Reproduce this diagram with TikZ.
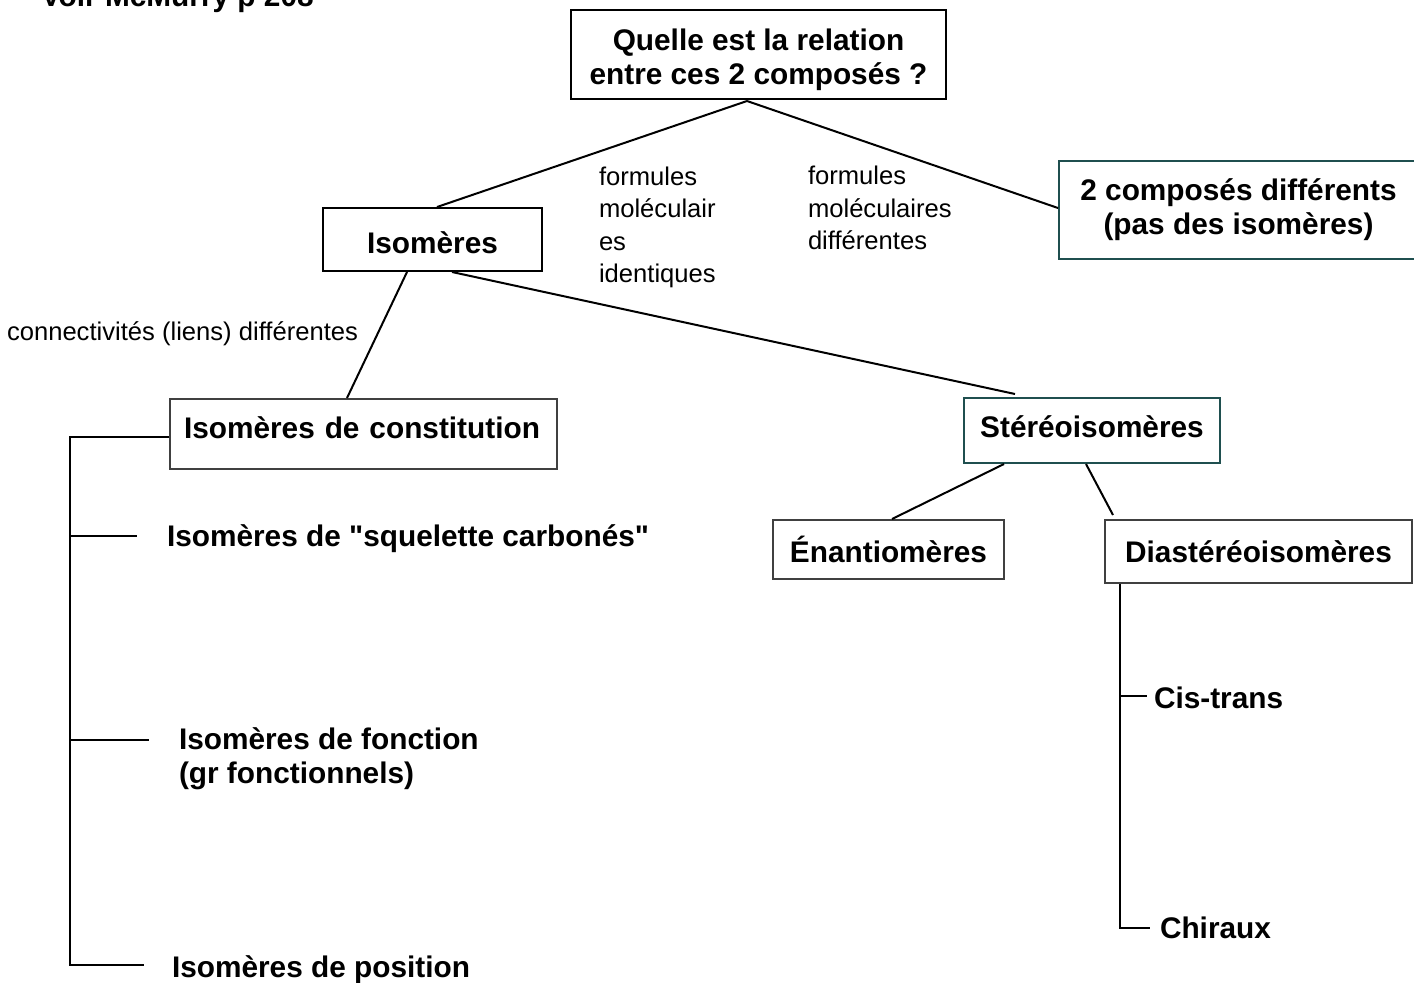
\documentclass[tikz,border=0pt]{standalone}
\usepackage{fontspec}
\setmainfont{Liberation Sans}[Ligatures=TeXOff]
\usetikzlibrary{calc}
\definecolor{darkteal}{HTML}{1F4F4F}
\definecolor{boxgrey}{HTML}{404040}
\tikzset{
  box/.style={draw,line width=1pt,inner sep=0pt,align=center,
    font=\fontsize{14.9}{17}\selectfont\bfseries},
  item/.style={inner sep=0pt,align=left,font=\fontsize{14.9}{17}\selectfont\bfseries},
  note/.style={inner sep=0pt,align=left,font=\fontsize{12.8}{16.2}\selectfont}
}

\begin{document}
\begin{tikzpicture}[x=0.5pt,y=-0.5pt,line width=1pt]
  \clip (0,0) rectangle (1414,982);
  \node[item,anchor=base west] (voir) at (40,6) {Voir McMurry p 208};

  \node[box,minimum width=187.5pt,minimum height=44.5pt] (Q) at (758.5,54.5) {\rule{0pt}{16pt}Quelle est la relation\\entre ces 2 composés ?};
  \node[box,minimum width=109.5pt,minimum height=31.5pt] (iso) at (432.5,239.5) {\rule{0pt}{14pt}Isomères};
  \node[box,draw=darkteal,minimum width=179.5pt,minimum height=49pt] (diff) at (1238.5,210) {2 composés différents\\(pas des isomères)};
  \node[box,draw=boxgrey,minimum width=193.5pt,minimum height=35pt,text width=179.5pt,align=left,text depth=6pt] (constit) at (363.5,434) {Isomères de constitution};
  \node[box,draw=darkteal,minimum width=128pt,minimum height=32.5pt,text depth=4pt] (stereo) at (1092,430.5) {Stéréoisomères};
  \node[box,draw=boxgrey,minimum width=115.5pt,minimum height=29.5pt] (enan) at (888.5,549.5) {Énantiomères};
  \node[box,draw=boxgrey,minimum width=153.5pt,minimum height=31.5pt] (dia) at (1258.5,551.5) {Diastéréoisomères};

  \node[note,anchor=west] (ident) at (598,227.5) {formules\\moléculair\\es\\identiques};
  \node[note,anchor=west] (diffm) at (807,208) {formules\\moléculaires\\différentes};
  \node[note,anchor=west] (conn) at (6,334) {connectivités (liens) différentes};

  \node[item,anchor=west] (sq) at (166,539) {Isomères de "squelette carbonés"};
  \node[item,anchor=west] (fct) at (178,759) {Isomères de fonction\\(gr fonctionnels)};
  \node[item,anchor=west] (pos) at (171,970) {Isomères de position};
  \node[item,anchor=west] (cis) at (1153,698) {Cis-trans};
  \node[item,anchor=west] (chir) at (1159,928) {Chiraux};

  \draw ($(Q.south)+(-11.5,1)$) coordinate (qj) -- ($(iso.north)+(4.5,0)$);
  \draw (qj) -- ($(diff.west)+(0,-2)$);
  \draw ($(iso.south)+(-25.5,0)$) -- ($(constit.north)+(-16.5,0)$);
  \draw ($(iso.south)+(19.5,0)$) -- ($(stereo.north)+(-77,-3)$);
  \draw ($(stereo.south)+(-88,0)$) -- ($(enan.north)+(3.5,0)$);
  \draw ($(stereo.south)+(-6,0)$) -- ($(dia.north)+(-145.5,-4)$);

  % left bracket
  \draw (constit.west) ++(0,3) -- ++(-99,0) coordinate (lt) -- ($(lt |- pos.west)+(0,-5)$) -- ($(pos.west)+(-27,-5)$);
  \draw ($(lt |- sq.west)+(0,-3)$) -- ($(sq.west)+(-29,-3)$);
  \draw ($(lt |- fct.west)+(0,-19)$) -- ($(fct.west)+(-29,-19)$);

  % right bracket
  \draw ($(dia.south west)+(16,0)$) coordinate (rt) -- (rt |- chir.west) -- ($(chir.west)+(-9,0)$);
  \draw ($(rt |- cis.west)+(0,-2)$) -- ($(cis.west)+(-6,-2)$);
\end{tikzpicture}
\end{document}
